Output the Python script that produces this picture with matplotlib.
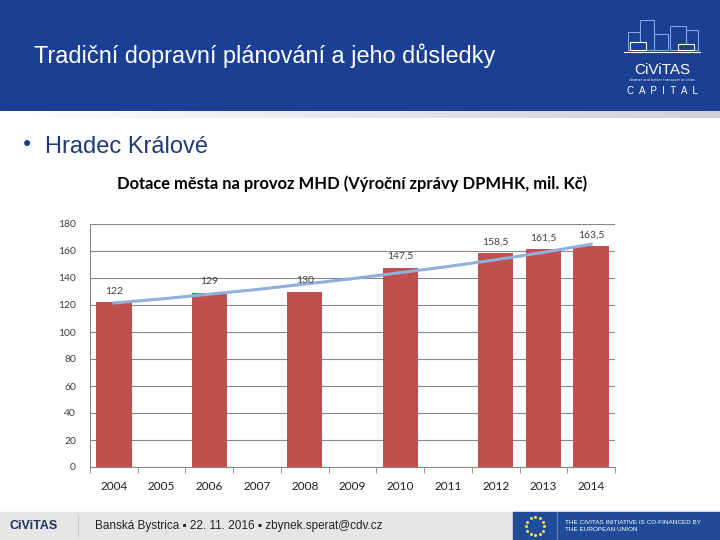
import matplotlib.pyplot as plt
import numpy as np
from matplotlib.patches import Rectangle

# chart data
years = ["2004", "2005", "2006", "2007", "2008", "2009", "2010", "2011", "2012", "2013", "2014"]
subsidy = [122, None, 129, None, 130, None, 147.5, None, 158.5, 161.5, 163.5]
labels = ["122", "", "129", "", "130", "", "147,5", "", "158,5", "161,5", "163,5"]
# trend line
trend = [121.5, 124.5, 128, 131.5, 135.5, 139.5, 144, 148.5, 153.5, 159, 165]
yticks = [0, 20, 40, 60, 80, 100, 120, 140, 160, 180]

slide_title = "Tradiční dopravní plánování a jeho důsledky"
bullet_text = "Hradec Králové"
chart_title = "Dotace města na provoz MHD (Výroční zprávy DPMHK, mil. Kč)"
footer_text = "Banská Bystrica \u25aa 22. 11. 2016 \u25aa zbynek.sperat@cdv.cz"
eu_text = "THE CIVITAS INITIATIVE IS CO-FINANCED BY\nTHE EUROPEAN UNION"

fig = plt.figure(figsize=(7.2, 5.4), dpi=100)

# background layer in pixel coordinates
bg = fig.add_axes([0, 0, 1, 1])
bg.set_xlim(0, 720)
bg.set_ylim(540, 0)
bg.axis("off")

# header band
bg.add_patch(Rectangle((0, 0), 720, 111, color="#1a3f93"))
# gradient strip under header
grad = np.linspace(0, 1, 256).reshape(1, -1)
bg.imshow(grad, extent=(0, 720, 118, 111), cmap=plt.matplotlib.colors.LinearSegmentedColormap.from_list(
    "g", ["#ffffff", "#cfd0d8"]), aspect="auto", zorder=1)
bg.text(34, 56, slide_title, color="white", fontsize=16.9, family=["Liberation Sans", "DejaVu Sans"],
        va="center", ha="left")

# logo (simplified)
sky = "#7fa6e8"
for x0, w, h in [(628, 12, 18), (640, 14, 30), (654, 14, 16), (670, 16, 24), (686, 12, 20)]:
    bg.add_patch(Rectangle((x0, 50 - h), w, h, fill=False, ec=sky, lw=0.8))
bg.add_patch(Rectangle((630, 42), 16, 8, fc="#1a3f93", ec="white", lw=0.8))
bg.add_patch(Rectangle((678, 44), 16, 6, fc="#1a3f93", ec="white", lw=0.8))
bg.plot([624, 700], [52, 52], color="white", lw=0.8)
bg.text(662, 70, "CiViTAS", color="white", fontsize=11, ha="center", va="center",
        family=["Liberation Sans", "DejaVu Sans"])
bg.text(662, 80, "cleaner and better transport in cities", color="white", fontsize=2.5,
        ha="center", va="center")
bg.text(662, 91, "C  A  P  I  T  A  L", color="white", fontsize=7, ha="center", va="center",
        family=["Liberation Sans", "DejaVu Sans"])

# bullet line
bg.text(21, 145, "\u2022", color="#1f3a88", fontsize=15, va="center")
bg.text(45, 147, bullet_text, color="#1f3a78", fontsize=17, va="center",
        family=["Liberation Sans", "DejaVu Sans"])

# chart title
bg.text(352, 184, chart_title, color="black", fontsize=11.9, fontweight="bold", ha="center",
        va="center", family=["Lato", "DejaVu Sans"])

# footer
bg.add_patch(Rectangle((0, 512), 720, 28, color="#e6e6e6"))
bg.text(10, 526, "CiViTAS", color="#1f3160", fontsize=9, fontweight="bold", va="center",
        family=["Liberation Sans", "DejaVu Sans"])
bg.plot([78, 78], [516, 536], color="#c8c8c8", lw=0.8)
bg.text(95, 526, footer_text, color="#222222", fontsize=8.5, va="center",
        family=["Liberation Sans", "DejaVu Sans"])
bg.add_patch(Rectangle((513, 512), 207, 28, color="#1f4b98"))
bg.plot([557, 557], [512, 540], color="#6a86c0", lw=0.8)
ang = np.linspace(0, 2 * np.pi, 13)[:-1]
bg.scatter(535 + 9 * np.cos(ang), 526 + 9 * np.sin(ang), s=1.5, color="#f2d64b", zorder=3)
bg.text(565, 526, eu_text, color="white", fontsize=4.6, va="center", linespacing=1.5,
        family=["Liberation Sans", "DejaVu Sans"])

# chart axes
ax = fig.add_axes([90 / 720, 1 - 467 / 540, 525 / 720, 243 / 540])
ax.patch.set_alpha(0)
x = np.arange(len(years))
heights = [v if v is not None else 0 for v in subsidy]
ax.bar(x, heights, width=0.74, color="#c0504d", zorder=2)
ax.plot(x, trend, color="#8eb0db", lw=2.2, zorder=3)
for xi, v, lab in zip(x, heights, labels):
    if lab:
        ax.text(xi, v + 5, lab, ha="center", va="bottom", fontsize=7.5, color="#404040",
                family=["Lato", "DejaVu Sans"])

ax.set_xlim(-0.5, len(years) - 0.5)
ax.set_ylim(0, 180)
ax.set_yticks(yticks)
ax.set_yticklabels([str(t) for t in yticks], fontsize=7.5, color="#404040", family=["Lato", "DejaVu Sans"])
ax.set_xticks(x)
ax.set_xticklabels(years, fontsize=8.5, color="#202020", family=["Lato", "DejaVu Sans"])
ax.tick_params(axis="x", length=0, pad=10)
ax.tick_params(axis="y", length=0, pad=10)
ax.set_xticks(np.arange(-0.5, len(years)), minor=True)
ax.tick_params(axis="x", which="minor", length=4, color="#888888", direction="out")
ax.yaxis.grid(True, color="#888888", lw=0.8)
ax.set_axisbelow(True)
for s in ["top", "right"]:
    ax.spines[s].set_visible(False)
ax.spines["left"].set_color("#888888")
ax.spines["bottom"].set_color("#888888")

fig.savefig("out.png", dpi=100)
